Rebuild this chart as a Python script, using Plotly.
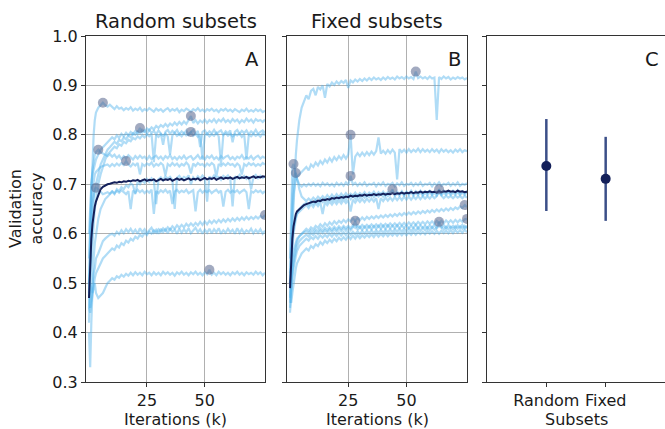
import plotly.graph_objects as go

# ---------------- data ----------------
ITER_K = [0, 0.5, 1, 1.5, 2, 2.5, 3, 4, 5, 6, 7, 8, 9] + list(range(10, 77))

RANDOM_RUNS = [
    [0.55, 0.62, 0.70, 0.76, 0.80, 0.83, 0.845, 0.855, 0.86, 0.865, 0.860, 0.857, 0.861,
     0.856, 0.852, 0.858, 0.853, 0.855, 0.850, 0.854, 0.851, 0.856, 0.849,
     0.853, 0.850, 0.855, 0.848, 0.852, 0.849, 0.854, 0.850, 0.847, 0.853,
     0.849, 0.852, 0.847, 0.851, 0.854, 0.848, 0.852, 0.849, 0.853, 0.846,
     0.851, 0.848, 0.853, 0.850, 0.847, 0.852, 0.849, 0.854, 0.848, 0.851,
     0.847, 0.852, 0.849, 0.853, 0.848, 0.851, 0.846, 0.852, 0.849, 0.853,
     0.848, 0.851, 0.847, 0.852, 0.849, 0.846, 0.851, 0.848, 0.853, 0.847,
     0.850, 0.847, 0.852, 0.848, 0.851, 0.846, 0.849],
    [0.50, 0.55, 0.60, 0.64, 0.67, 0.69, 0.70, 0.72, 0.74, 0.75, 0.76, 0.77, 0.775,
     0.780, 0.786, 0.782, 0.790, 0.787, 0.795, 0.791, 0.799, 0.795, 0.803,
     0.800, 0.807, 0.803, 0.810, 0.806, 0.813, 0.809, 0.815, 0.811, 0.818,
     0.814, 0.820, 0.816, 0.822, 0.817, 0.823, 0.819, 0.825, 0.820, 0.826,
     0.821, 0.827, 0.822, 0.829, 0.838, 0.824, 0.830, 0.823, 0.829, 0.825,
     0.831, 0.824, 0.830, 0.826, 0.832, 0.825, 0.831, 0.827, 0.833, 0.826,
     0.830, 0.825, 0.832, 0.827, 0.831, 0.824, 0.830, 0.826, 0.833, 0.827,
     0.831, 0.825, 0.832, 0.828, 0.830, 0.826, 0.831],
    [0.45, 0.50, 0.55, 0.59, 0.62, 0.65, 0.67, 0.70, 0.72, 0.735, 0.75, 0.76, 0.765,
     0.770, 0.776, 0.773, 0.781, 0.778, 0.786, 0.783, 0.790, 0.787, 0.794,
     0.791, 0.797, 0.793, 0.799, 0.795, 0.801, 0.797, 0.802, 0.745, 0.800,
     0.796, 0.802, 0.798, 0.803, 0.797, 0.760, 0.799, 0.804, 0.798, 0.802,
     0.797, 0.803, 0.799, 0.801, 0.806, 0.798, 0.802, 0.796, 0.801, 0.750,
     0.799, 0.803, 0.797, 0.801, 0.798, 0.804, 0.797, 0.740, 0.800, 0.803,
     0.798, 0.802, 0.797, 0.801, 0.799, 0.803, 0.796, 0.802, 0.750, 0.800,
     0.797, 0.802, 0.798, 0.801, 0.796, 0.803, 0.799],
    [0.60, 0.66, 0.70, 0.72, 0.73, 0.74, 0.75, 0.76, 0.77, 0.775, 0.78, 0.785, 0.79,
     0.795, 0.791, 0.799, 0.794, 0.802, 0.797, 0.804, 0.799, 0.806, 0.801,
     0.808, 0.803, 0.814, 0.805, 0.809, 0.802, 0.810, 0.804, 0.808, 0.801,
     0.809, 0.803, 0.780, 0.806, 0.810, 0.802, 0.808, 0.804, 0.810, 0.801,
     0.807, 0.803, 0.809, 0.800, 0.806, 0.810, 0.802, 0.808, 0.775, 0.806,
     0.809, 0.801, 0.807, 0.803, 0.810, 0.802, 0.806, 0.809, 0.800, 0.807,
     0.803, 0.809, 0.785, 0.806, 0.810, 0.802, 0.808, 0.804, 0.809, 0.801,
     0.807, 0.803, 0.810, 0.802, 0.806, 0.809, 0.804],
    [0.50, 0.62, 0.70, 0.73, 0.75, 0.76, 0.765, 0.770, 0.765, 0.762, 0.760, 0.757, 0.761,
     0.756, 0.760, 0.753, 0.758, 0.751, 0.757, 0.752, 0.759, 0.754, 0.750,
     0.757, 0.752, 0.758, 0.753, 0.756, 0.750, 0.757, 0.751, 0.755, 0.758,
     0.752, 0.756, 0.750, 0.757, 0.753, 0.759, 0.751, 0.755, 0.750, 0.756,
     0.752, 0.758, 0.751, 0.755, 0.757, 0.750, 0.754, 0.759, 0.752, 0.756,
     0.750, 0.757, 0.753, 0.758, 0.751, 0.755, 0.750, 0.757, 0.752, 0.756,
     0.758, 0.751, 0.755, 0.750, 0.756, 0.753, 0.759, 0.751, 0.755, 0.752,
     0.757, 0.750, 0.755, 0.758, 0.752, 0.756, 0.753],
    [0.48, 0.58, 0.65, 0.69, 0.71, 0.72, 0.725, 0.73, 0.735, 0.737, 0.738, 0.740, 0.736,
     0.741, 0.737, 0.742, 0.738, 0.743, 0.739, 0.747, 0.740, 0.736, 0.742,
     0.738, 0.743, 0.720, 0.741, 0.737, 0.742, 0.739, 0.744, 0.736, 0.741,
     0.738, 0.743, 0.739, 0.718, 0.741, 0.737, 0.743, 0.738, 0.742, 0.736,
     0.741, 0.738, 0.744, 0.739, 0.722, 0.742, 0.737, 0.743, 0.739, 0.741,
     0.736, 0.742, 0.738, 0.743, 0.739, 0.715, 0.741, 0.737, 0.742, 0.738,
     0.743, 0.739, 0.741, 0.736, 0.742, 0.738, 0.720, 0.741, 0.737, 0.743,
     0.739, 0.742, 0.737, 0.741, 0.738, 0.743, 0.740],
    [0.42, 0.55, 0.62, 0.66, 0.68, 0.69, 0.693, 0.690, 0.685, 0.680, 0.682, 0.684, 0.681,
     0.686, 0.682, 0.687, 0.683, 0.688, 0.684, 0.680, 0.686, 0.650, 0.687,
     0.683, 0.689, 0.684, 0.688, 0.682, 0.687, 0.683, 0.689, 0.640, 0.686,
     0.682, 0.688, 0.684, 0.689, 0.683, 0.687, 0.660, 0.685, 0.689, 0.683,
     0.687, 0.684, 0.689, 0.682, 0.686, 0.688, 0.645, 0.684, 0.689, 0.683,
     0.687, 0.684, 0.688, 0.682, 0.686, 0.689, 0.683, 0.687, 0.655, 0.685,
     0.689, 0.683, 0.687, 0.684, 0.688, 0.682, 0.686, 0.689, 0.684, 0.650,
     0.686, 0.683, 0.688, 0.684, 0.687, 0.682, 0.686],
    [0.40, 0.33, 0.42, 0.50, 0.55, 0.58, 0.60, 0.63, 0.65, 0.66, 0.67, 0.675, 0.68,
     0.685, 0.680, 0.690, 0.686, 0.694, 0.690, 0.698, 0.694, 0.702, 0.698,
     0.680, 0.705, 0.700, 0.708, 0.703, 0.711, 0.705, 0.712, 0.707, 0.660,
     0.710, 0.714, 0.708, 0.716, 0.711, 0.715, 0.709, 0.650, 0.713, 0.717,
     0.710, 0.715, 0.712, 0.718, 0.700, 0.714, 0.709, 0.716, 0.711, 0.718,
     0.713, 0.665, 0.716, 0.711, 0.718, 0.712, 0.715, 0.709, 0.717, 0.713,
     0.718, 0.711, 0.655, 0.716, 0.712, 0.719, 0.713, 0.717, 0.711, 0.716,
     0.690, 0.714, 0.719, 0.712, 0.717, 0.713, 0.716],
    [0.45, 0.44, 0.46, 0.48, 0.50, 0.51, 0.52, 0.53, 0.54, 0.55, 0.555, 0.56, 0.565,
     0.570, 0.567, 0.576, 0.572, 0.581, 0.577, 0.586, 0.582, 0.590, 0.586,
     0.594, 0.590, 0.598, 0.594, 0.601, 0.597, 0.604, 0.600, 0.607, 0.602,
     0.609, 0.604, 0.611, 0.606, 0.613, 0.608, 0.615, 0.610, 0.617, 0.612,
     0.618, 0.613, 0.620, 0.615, 0.621, 0.616, 0.622, 0.617, 0.624, 0.618,
     0.625, 0.619, 0.626, 0.621, 0.627, 0.622, 0.628, 0.623, 0.629, 0.624,
     0.630, 0.625, 0.631, 0.626, 0.632, 0.627, 0.633, 0.628, 0.634, 0.629,
     0.634, 0.630, 0.635, 0.631, 0.636, 0.632, 0.638],
    [0.50, 0.45, 0.47, 0.50, 0.52, 0.53, 0.55, 0.56, 0.575, 0.585, 0.59, 0.595, 0.598,
     0.600, 0.596, 0.604, 0.599, 0.607, 0.601, 0.609, 0.603, 0.610, 0.602,
     0.608, 0.600, 0.611, 0.603, 0.609, 0.601, 0.607, 0.612, 0.602, 0.608,
     0.600, 0.610, 0.603, 0.609, 0.601, 0.611, 0.604, 0.608, 0.600, 0.610,
     0.602, 0.609, 0.603, 0.611, 0.601, 0.607, 0.612, 0.603, 0.609, 0.600,
     0.608, 0.602, 0.610, 0.601, 0.609, 0.603, 0.611, 0.600, 0.607, 0.602,
     0.610, 0.603, 0.608, 0.600, 0.611, 0.602, 0.609, 0.601, 0.607, 0.603,
     0.610, 0.601, 0.608, 0.602, 0.609, 0.600, 0.606],
    [0.47, 0.50, 0.49, 0.48, 0.49, 0.50, 0.48, 0.47, 0.475, 0.48, 0.49, 0.50, 0.505,
     0.510, 0.507, 0.514, 0.511, 0.517, 0.513, 0.519, 0.515, 0.521, 0.516,
     0.522, 0.517, 0.521, 0.516, 0.523, 0.518, 0.521, 0.516, 0.522, 0.517,
     0.521, 0.516, 0.523, 0.518, 0.522, 0.517, 0.521, 0.515, 0.522, 0.518,
     0.523, 0.517, 0.521, 0.516, 0.522, 0.518, 0.523, 0.517, 0.521, 0.516,
     0.522, 0.518, 0.527, 0.517, 0.521, 0.516, 0.523, 0.518, 0.522, 0.517,
     0.521, 0.516, 0.522, 0.518, 0.523, 0.517, 0.521, 0.516, 0.522, 0.518,
     0.521, 0.517, 0.523, 0.518, 0.522, 0.516, 0.521],
]
RANDOM_MEAN = [0.47, 0.54, 0.59, 0.62, 0.64, 0.655, 0.665, 0.68, 0.69, 0.695, 0.698, 0.700, 0.701,
               0.702, 0.704, 0.703, 0.705, 0.704, 0.706, 0.705, 0.707, 0.706, 0.708,
               0.707, 0.709, 0.706, 0.708, 0.710, 0.707, 0.709, 0.708, 0.710, 0.706,
               0.709, 0.711, 0.708, 0.710, 0.709, 0.711, 0.707, 0.710, 0.712, 0.709,
               0.711, 0.708, 0.710, 0.712, 0.709, 0.711, 0.710, 0.712, 0.708, 0.711,
               0.713, 0.710, 0.712, 0.711, 0.713, 0.709, 0.712, 0.714, 0.711, 0.713,
               0.712, 0.714, 0.711, 0.713, 0.715, 0.712, 0.714, 0.713, 0.715, 0.712,
               0.714, 0.716, 0.713, 0.715, 0.714, 0.716, 0.715]
RANDOM_BEST_X = [6, 22, 44, 44, 4, 16, 3, 76, 52]
RANDOM_BEST_Y = [0.865, 0.814, 0.838, 0.806, 0.770, 0.747, 0.693, 0.638, 0.527]

FIXED_RUNS = [
    [0.50, 0.55, 0.62, 0.68, 0.72, 0.76, 0.79, 0.83, 0.855, 0.87, 0.88, 0.872, 0.889,
     0.893, 0.880, 0.897, 0.892, 0.900, 0.875, 0.903, 0.898, 0.906, 0.901,
     0.908, 0.903, 0.909, 0.905, 0.911, 0.895, 0.910, 0.906, 0.912, 0.908,
     0.913, 0.909, 0.914, 0.910, 0.915, 0.911, 0.916, 0.912, 0.915, 0.911,
     0.916, 0.912, 0.917, 0.913, 0.916, 0.912, 0.918, 0.914, 0.917, 0.913,
     0.918, 0.914, 0.917, 0.913, 0.928, 0.915, 0.918, 0.914, 0.917, 0.913,
     0.918, 0.914, 0.916, 0.830, 0.917, 0.913, 0.918, 0.914, 0.917, 0.912,
     0.916, 0.913, 0.917, 0.914, 0.916, 0.912, 0.915],
    [0.50, 0.58, 0.64, 0.68, 0.70, 0.71, 0.715, 0.72, 0.725, 0.73, 0.735, 0.728, 0.74,
     0.735, 0.744, 0.738, 0.747, 0.741, 0.750, 0.744, 0.753, 0.746, 0.755,
     0.749, 0.757, 0.751, 0.759, 0.752, 0.760, 0.800, 0.720, 0.756, 0.763,
     0.757, 0.764, 0.758, 0.765, 0.759, 0.766, 0.760, 0.767, 0.795, 0.762,
     0.768, 0.762, 0.769, 0.763, 0.770, 0.764, 0.710, 0.771, 0.765, 0.770,
     0.764, 0.771, 0.765, 0.770, 0.766, 0.772, 0.765, 0.771, 0.766, 0.770,
     0.765, 0.771, 0.766, 0.770, 0.764, 0.771, 0.766, 0.770, 0.765, 0.769,
     0.764, 0.770, 0.766, 0.771, 0.765, 0.769, 0.767],
    [0.55, 0.68, 0.735, 0.741, 0.73, 0.72, 0.71, 0.70, 0.695, 0.700, 0.696, 0.701, 0.697,
     0.702, 0.697, 0.701, 0.696, 0.703, 0.698, 0.702, 0.697, 0.701, 0.696,
     0.703, 0.698, 0.702, 0.697, 0.704, 0.698, 0.717, 0.699, 0.703, 0.697,
     0.702, 0.698, 0.704, 0.697, 0.701, 0.699, 0.703, 0.696, 0.702, 0.698,
     0.704, 0.697, 0.701, 0.699, 0.703, 0.696, 0.702, 0.698, 0.704, 0.697,
     0.701, 0.699, 0.703, 0.697, 0.702, 0.698, 0.704, 0.697, 0.701, 0.699,
     0.703, 0.696, 0.702, 0.698, 0.704, 0.697, 0.701, 0.699, 0.703, 0.697,
     0.702, 0.698, 0.704, 0.697, 0.701, 0.699, 0.702],
    [0.52, 0.62, 0.68, 0.71, 0.72, 0.723, 0.71, 0.69, 0.675, 0.670, 0.666, 0.671, 0.667,
     0.673, 0.668, 0.675, 0.670, 0.676, 0.671, 0.678, 0.672, 0.679, 0.673,
     0.680, 0.674, 0.681, 0.675, 0.682, 0.676, 0.681, 0.677, 0.683, 0.676,
     0.682, 0.678, 0.684, 0.677, 0.683, 0.679, 0.685, 0.678, 0.684, 0.679,
     0.685, 0.678, 0.684, 0.680, 0.686, 0.679, 0.685, 0.680, 0.686, 0.679,
     0.685, 0.681, 0.687, 0.680, 0.686, 0.681, 0.687, 0.680, 0.686, 0.682,
     0.687, 0.681, 0.686, 0.682, 0.688, 0.681, 0.687, 0.682, 0.686, 0.681,
     0.687, 0.682, 0.688, 0.681, 0.686, 0.682, 0.687],
    [0.48, 0.55, 0.59, 0.61, 0.625, 0.635, 0.64, 0.65, 0.655, 0.66, 0.662, 0.658, 0.665,
     0.660, 0.667, 0.662, 0.669, 0.664, 0.670, 0.665, 0.672, 0.666, 0.673,
     0.667, 0.674, 0.668, 0.675, 0.669, 0.676, 0.670, 0.677, 0.671, 0.678,
     0.672, 0.678, 0.673, 0.679, 0.674, 0.680, 0.674, 0.680, 0.675, 0.681,
     0.675, 0.681, 0.676, 0.682, 0.690, 0.676, 0.682, 0.677, 0.683, 0.677,
     0.683, 0.678, 0.684, 0.677, 0.683, 0.678, 0.684, 0.677, 0.683, 0.678,
     0.684, 0.678, 0.683, 0.677, 0.684, 0.678, 0.683, 0.679, 0.684, 0.678,
     0.683, 0.679, 0.684, 0.678, 0.683, 0.679, 0.684],
    [0.46, 0.52, 0.57, 0.60, 0.62, 0.63, 0.64, 0.645, 0.65, 0.655, 0.658, 0.652, 0.660,
     0.654, 0.662, 0.656, 0.663, 0.640, 0.664, 0.658, 0.665, 0.659, 0.666,
     0.660, 0.667, 0.661, 0.668, 0.662, 0.668, 0.645, 0.669, 0.663, 0.670,
     0.664, 0.670, 0.664, 0.671, 0.665, 0.671, 0.665, 0.672, 0.650, 0.672,
     0.666, 0.673, 0.667, 0.673, 0.667, 0.674, 0.668, 0.674, 0.668, 0.675,
     0.669, 0.675, 0.669, 0.675, 0.670, 0.676, 0.670, 0.676, 0.671, 0.676,
     0.671, 0.677, 0.672, 0.676, 0.690, 0.677, 0.672, 0.677, 0.673, 0.676,
     0.672, 0.677, 0.673, 0.676, 0.672, 0.677, 0.673],
    [0.45, 0.50, 0.53, 0.55, 0.565, 0.575, 0.585, 0.595, 0.60, 0.605, 0.61, 0.606, 0.613,
     0.609, 0.616, 0.612, 0.619, 0.614, 0.621, 0.616, 0.623, 0.618, 0.625,
     0.620, 0.626, 0.622, 0.628, 0.623, 0.629, 0.625, 0.631, 0.626, 0.632,
     0.627, 0.633, 0.628, 0.634, 0.630, 0.635, 0.631, 0.636, 0.632, 0.637,
     0.633, 0.638, 0.634, 0.639, 0.635, 0.640, 0.636, 0.641, 0.637, 0.642,
     0.638, 0.643, 0.639, 0.644, 0.640, 0.645, 0.641, 0.646, 0.642, 0.647,
     0.643, 0.648, 0.644, 0.649, 0.645, 0.650, 0.646, 0.651, 0.647, 0.652,
     0.648, 0.653, 0.650, 0.655, 0.652, 0.658, 0.654],
    [0.47, 0.50, 0.52, 0.54, 0.555, 0.565, 0.575, 0.585, 0.59, 0.595, 0.598, 0.594, 0.601,
     0.597, 0.604, 0.599, 0.606, 0.601, 0.607, 0.602, 0.609, 0.603, 0.610,
     0.604, 0.611, 0.605, 0.612, 0.606, 0.612, 0.607, 0.613, 0.626, 0.608,
     0.614, 0.608, 0.614, 0.609, 0.615, 0.609, 0.615, 0.610, 0.616, 0.610,
     0.616, 0.610, 0.617, 0.611, 0.616, 0.611, 0.617, 0.611, 0.616, 0.612,
     0.617, 0.611, 0.616, 0.612, 0.618, 0.611, 0.617, 0.612, 0.616, 0.611,
     0.617, 0.612, 0.618, 0.611, 0.616, 0.612, 0.617, 0.611, 0.618, 0.612,
     0.616, 0.611, 0.617, 0.612, 0.618, 0.611, 0.616],
    [0.44, 0.48, 0.51, 0.53, 0.545, 0.555, 0.565, 0.575, 0.58, 0.585, 0.59, 0.586, 0.593,
     0.589, 0.595, 0.590, 0.597, 0.592, 0.598, 0.593, 0.600, 0.594, 0.601,
     0.595, 0.602, 0.596, 0.603, 0.597, 0.604, 0.598, 0.604, 0.599, 0.605,
     0.599, 0.606, 0.600, 0.606, 0.601, 0.607, 0.601, 0.607, 0.602, 0.608,
     0.602, 0.608, 0.603, 0.609, 0.603, 0.609, 0.604, 0.610, 0.604, 0.610,
     0.605, 0.611, 0.605, 0.611, 0.606, 0.612, 0.606, 0.612, 0.607, 0.613,
     0.607, 0.613, 0.608, 0.613, 0.624, 0.614, 0.608, 0.614, 0.609, 0.614,
     0.609, 0.615, 0.610, 0.615, 0.610, 0.616, 0.611],
    [0.50, 0.53, 0.55, 0.565, 0.575, 0.585, 0.59, 0.595, 0.60, 0.603, 0.605, 0.601, 0.607,
     0.603, 0.609, 0.605, 0.611, 0.606, 0.612, 0.607, 0.613, 0.608, 0.614,
     0.609, 0.615, 0.610, 0.616, 0.611, 0.616, 0.611, 0.617, 0.612, 0.617,
     0.612, 0.618, 0.613, 0.618, 0.613, 0.619, 0.614, 0.619, 0.614, 0.620,
     0.615, 0.620, 0.615, 0.621, 0.616, 0.621, 0.616, 0.622, 0.617, 0.622,
     0.617, 0.623, 0.618, 0.623, 0.618, 0.624, 0.619, 0.624, 0.619, 0.625,
     0.620, 0.625, 0.620, 0.626, 0.621, 0.626, 0.621, 0.627, 0.622, 0.627,
     0.622, 0.628, 0.623, 0.628, 0.624, 0.629, 0.630],
    [0.48, 0.46, 0.48, 0.50, 0.515, 0.53, 0.54, 0.55, 0.56, 0.565, 0.57, 0.566, 0.575,
     0.571, 0.579, 0.575, 0.583, 0.578, 0.586, 0.581, 0.588, 0.583, 0.590,
     0.585, 0.592, 0.587, 0.593, 0.588, 0.595, 0.589, 0.596, 0.590, 0.597,
     0.591, 0.597, 0.592, 0.598, 0.593, 0.599, 0.593, 0.600, 0.594, 0.600,
     0.595, 0.601, 0.595, 0.601, 0.596, 0.602, 0.596, 0.602, 0.597, 0.603,
     0.597, 0.603, 0.598, 0.604, 0.598, 0.604, 0.599, 0.604, 0.599, 0.605,
     0.600, 0.605, 0.600, 0.606, 0.600, 0.606, 0.601, 0.606, 0.601, 0.607,
     0.601, 0.607, 0.602, 0.607, 0.602, 0.608, 0.603],
]
FIXED_MEAN = [0.49, 0.55, 0.59, 0.615, 0.63, 0.64, 0.645, 0.65, 0.655, 0.658, 0.660, 0.662, 0.663,
              0.665, 0.664, 0.667, 0.666, 0.669, 0.668, 0.670, 0.669, 0.672, 0.671,
              0.673, 0.672, 0.674, 0.673, 0.675, 0.674, 0.677, 0.675, 0.677, 0.676,
              0.678, 0.677, 0.679, 0.677, 0.679, 0.678, 0.680, 0.678, 0.680, 0.679,
              0.681, 0.679, 0.681, 0.680, 0.682, 0.680, 0.682, 0.681, 0.683, 0.681,
              0.683, 0.682, 0.684, 0.682, 0.684, 0.683, 0.685, 0.683, 0.685, 0.684,
              0.686, 0.684, 0.685, 0.683, 0.686, 0.684, 0.686, 0.685, 0.687, 0.685,
              0.686, 0.684, 0.687, 0.685, 0.686, 0.684, 0.685]
FIXED_BEST_X = [54, 26, 1.5, 2.5, 26, 44, 64, 28, 64, 76, 75]
FIXED_BEST_Y = [0.928, 0.800, 0.741, 0.723, 0.717, 0.690, 0.690, 0.626, 0.624, 0.630, 0.658]

SUBSET_TYPES = ["Random", "Fixed"]
SUBSET_MEAN = [0.737, 0.711]
SUBSET_LOW = [0.646, 0.626]
SUBSET_HIGH = [0.832, 0.796]

Y_TICKS = [0.3, 0.4, 0.5, 0.6, 0.7, 0.8, 0.9, 1.0]
X_TICKS = [25, 50]

for r in RANDOM_RUNS + FIXED_RUNS + [RANDOM_MEAN, FIXED_MEAN]:
    assert len(r) == len(ITER_K), len(r)

# ---------------- figure ----------------
RUN_COLOR = "rgba(80,178,235,0.45)"
MEAN_COLOR = "#14205a"
DOT_COLOR = "rgba(85,100,140,0.55)"
FONT = "DejaVu Sans"
TXT = "#1a1a1a"
SPINE = "#333333"
TICK_SIZE = 16
TITLE_SIZE = 19.5

fig = go.Figure()

def add_panel(runs, mean, bx, by, xa, ya):
    for run in runs:
        fig.add_trace(go.Scatter(x=ITER_K, y=run, mode="lines", xaxis=xa, yaxis=ya,
                                 line=dict(color=RUN_COLOR, width=2.2), showlegend=False,
                                 hoverinfo="skip"))
    fig.add_trace(go.Scatter(x=ITER_K, y=mean, mode="lines", xaxis=xa, yaxis=ya,
                             line=dict(color=MEAN_COLOR, width=2), showlegend=False))
    fig.add_trace(go.Scatter(x=bx, y=by, mode="markers", xaxis=xa, yaxis=ya,
                             marker=dict(color=DOT_COLOR, size=10, line=dict(width=0)),
                             showlegend=False))

add_panel(RANDOM_RUNS, RANDOM_MEAN, RANDOM_BEST_X, RANDOM_BEST_Y, "x", "y")
add_panel(FIXED_RUNS, FIXED_MEAN, FIXED_BEST_X, FIXED_BEST_Y, "x2", "y2")

fig.add_trace(go.Scatter(
    x=list(range(len(SUBSET_TYPES))), y=SUBSET_MEAN, mode="markers", xaxis="x3", yaxis="y3",
    marker=dict(color=MEAN_COLOR, size=10),
    error_y=dict(type="data", symmetric=False,
                 array=[h - m for h, m in zip(SUBSET_HIGH, SUBSET_MEAN)],
                 arrayminus=[m - l for m, l in zip(SUBSET_MEAN, SUBSET_LOW)],
                 color="#3b4f88", thickness=2.5, width=0),
    showlegend=False))

W, H = 665, 429
L, R, T, B = 86, 0, 36, 47
pw = W - L - R
def dom(a, b):
    return [(a - L) / pw, min(1.0, (b - L) / pw)]

tickfont = dict(family=FONT, size=TICK_SIZE, color=TXT)
common_x = dict(range=[-1.3, 76], tickvals=X_TICKS, ticks="outside", ticklen=4, tickcolor=SPINE,
                showline=True, linecolor=SPINE, linewidth=1, mirror=True,
                showgrid=True, gridcolor="#b0b0b0", gridwidth=1, zeroline=False,
                tickfont=tickfont)
common_y = dict(range=[0.3, 1.0], tickvals=Y_TICKS, ticks="outside", ticklen=4, tickcolor=SPINE,
                showline=True, linecolor=SPINE, linewidth=1, mirror=True, zeroline=False,
                tickformat=".1f", tickfont=tickfont)

fig.update_layout(
    width=W, height=H, margin=dict(l=L, r=R, t=T, b=B),
    paper_bgcolor="white", plot_bgcolor="white",
    font=dict(family=FONT, size=TICK_SIZE, color=TXT),
    xaxis=dict(domain=dom(86, 265), anchor="y", **common_x),
    xaxis2=dict(domain=dom(287, 467), anchor="y2", **common_x),
    xaxis3=dict(domain=dom(487, 666), anchor="y3", range=[-1, 2],
                tickvals=list(range(len(SUBSET_TYPES))), ticktext=SUBSET_TYPES,
                ticks="outside", ticklen=4, tickcolor=SPINE,
                showline=True, linecolor=SPINE, linewidth=1, mirror=True,
                showgrid=False, zeroline=False, tickfont=tickfont),
    yaxis=dict(anchor="x", showgrid=True, gridcolor="#b0b0b0", gridwidth=1, **common_y),
    yaxis2=dict(anchor="x2", showgrid=True, gridcolor="#b0b0b0", gridwidth=1,
                showticklabels=False, **common_y),
    yaxis3=dict(anchor="x3", range=[0.3, 1.0], tickvals=Y_TICKS, ticks="outside", ticklen=4,
                tickcolor=SPINE, showline=True, linecolor=SPINE, linewidth=1, mirror=False,
                showgrid=False, zeroline=False, showticklabels=False),
)

ann = []
for xr, yr, t in [("x", "y", "A"), ("x2", "y2", "B"), ("x3", "y3", "C")]:
    ann.append(dict(text=t, xref=f"{xr} domain", yref=f"{yr} domain", x=0.98, y=0.97,
                    xanchor="right", yanchor="top", showarrow=False,
                    font=dict(family=FONT, size=TITLE_SIZE, color=TXT)))
for xr, yr, t in [("x", "y", "Random subsets"), ("x2", "y2", "Fixed subsets")]:
    ann.append(dict(text=t, xref=f"{xr} domain", yref=f"{yr} domain", x=0.5, y=1,
                    xanchor="center", yanchor="bottom", yshift=1, showarrow=False,
                    font=dict(family=FONT, size=TITLE_SIZE, color=TXT)))
for xr, yr, t in [("x", "y", "Iterations (k)"), ("x2", "y2", "Iterations (k)"), ("x3", "y3", "Subsets")]:
    ann.append(dict(text=t, xref=f"{xr} domain", yref=f"{yr} domain", x=0.5, y=0,
                    xanchor="center", yanchor="top", yshift=-26, showarrow=False,
                    font=dict(family=FONT, size=TICK_SIZE, color=TXT)))
ann.append(dict(text="Validation<br>accuracy", xref="x domain", yref="y domain", x=0, y=0.5,
                xanchor="center", yanchor="middle", xshift=-60, textangle=-90, showarrow=False,
                font=dict(family=FONT, size=TICK_SIZE, color=TXT)))
fig.update_layout(annotations=ann)

fig.write_html("out.html")
